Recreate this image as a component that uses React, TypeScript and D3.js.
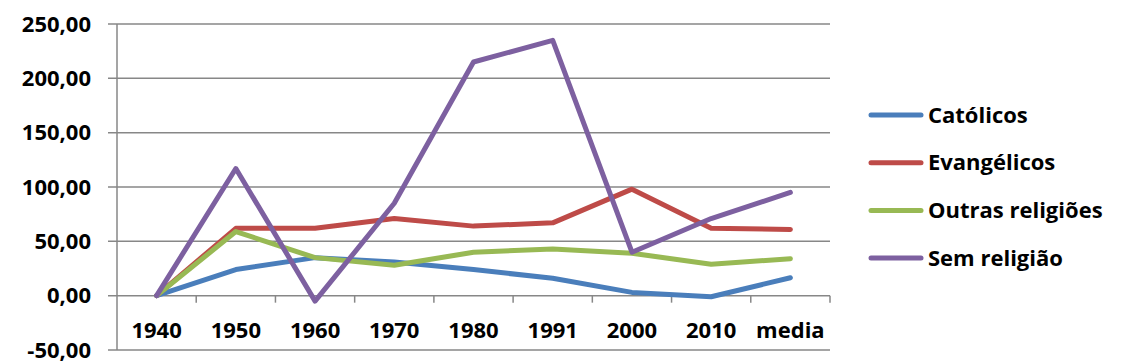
import React from "react";
import * as d3 from "d3";

const categories = ["1940", "1950", "1960", "1970", "1980", "1991", "2000", "2010", "media"];
const catolicos = [0, 24, 35, 31, 24, 16, 3, -1, 16.5];
const evangelicos = [0, 62, 62, 71, 64, 67, 98, 62, 61];
const outras = [0, 59, 35, 28, 40, 43, 39, 29, 34];
const semReligiao = [0, 117, -5, 85, 215, 235, 40, 71, 95];
const yTicks = [-50, 0, 50, 100, 150, 200, 250];

const seriesNames = ["Católicos", "Evangélicos", "Outras religiões", "Sem religião"];
const seriesColors = ["#4A7EBB", "#BE4B48", "#98B954", "#7D60A0"];

export default function App() {
  const W = 1122, H = 364;
  const left = 117, right = 830, top = 24, bottom = 350;
  const x = d3.scaleBand<string>().domain(categories).range([left, right]);
  const y = d3.scaleLinear().domain([-50, 250]).range([bottom, top]);
  const series = [catolicos, evangelicos, outras, semReligiao];
  const line = d3
    .line<number>()
    .x((_, i) => (x(categories[i]) as number) + x.bandwidth() / 2)
    .y((d) => y(d));
  const font = "'Open Sans', sans-serif";
  const fs = 22;
  const grid = "#878787";
  const y0 = y(0);
  return (
    <svg width={W} height={H} style={{ position: "absolute", left: 0, top: 0 }}>
      <rect width={W} height={H} fill="#fff" />
      {yTicks.map((t) => (
        <g key={t}>
          <line x1={108} x2={right} y1={y(t)} y2={y(t)} stroke={grid} strokeWidth={1.5} />
          <text
            x={91}
            y={y(t)}
            dy="0.35em"
            textAnchor="end"
            fontFamily={font}
            fontWeight="bold"
            fontSize={fs}
            fill="#000"
          >
            {d3.format(".2f")(t).replace(".", ",").replace("−", "-")}
          </text>
        </g>
      ))}
      <line x1={left} x2={left} y1={top} y2={bottom} stroke={grid} strokeWidth={1.5} />
      {categories.map((c) => (
        <line
          key={"t" + c}
          x1={(x(c) as number) + x.bandwidth()}
          x2={(x(c) as number) + x.bandwidth()}
          y1={y0}
          y2={y0 + 7}
          stroke={grid}
          strokeWidth={1.5}
        />
      ))}
      {categories.map((c) => (
        <text
          key={"l" + c}
          x={(x(c) as number) + x.bandwidth() / 2}
          y={330}
          dy="0.35em"
          textAnchor="middle"
          fontFamily={font}
          fontWeight="bold"
          fontSize={fs}
          fill="#000"
        >
          {c}
        </text>
      ))}
      {series.map((s, i) => (
        <path
          key={"s" + i}
          d={line(s) || ""}
          fill="none"
          stroke={seriesColors[i]}
          strokeWidth={5}
          strokeLinejoin="round"
          strokeLinecap="round"
        />
      ))}
      {seriesNames.map((n, i) => {
        const ly = 115 + i * 47.7;
        return (
          <g key={"lg" + n}>
            <line x1={871} x2={921} y1={ly} y2={ly} stroke={seriesColors[i]} strokeWidth={5} strokeLinecap="round" />
            <text x={928} y={ly} dy="0.35em" fontFamily={font} fontWeight="bold" fontSize={fs} fill="#000">
              {n}
            </text>
          </g>
        );
      })}
    </svg>
  );
}
